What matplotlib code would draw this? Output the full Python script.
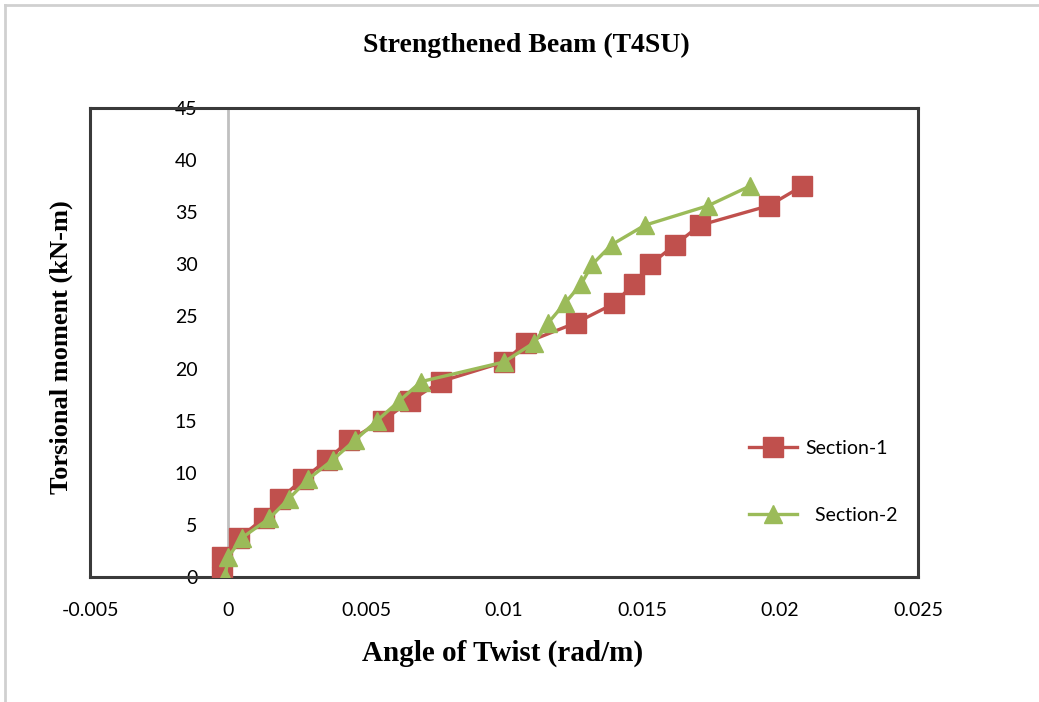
import matplotlib.pyplot as plt
from matplotlib.lines import Line2D

# torsional moment steps (kN-m), same for both sections
moment = [0, 1.88, 3.75, 5.63, 7.5, 9.38, 11.25, 13.13, 15, 16.88, 18.75,
          20.63, 22.5, 24.38, 26.25, 28.13, 30, 31.88, 33.75, 35.63, 37.5]

# angle of twist (rad/m)
twist_s1 = [-0.0002, -0.0002, 0.0004, 0.0013, 0.0019, 0.0027, 0.0036, 0.0044,
            0.0056, 0.0066, 0.0077, 0.0100, 0.0108, 0.0126, 0.0140, 0.0147,
            0.0153, 0.0162, 0.0171, 0.0196, 0.0208]
twist_s2 = [-0.0001, 0.0000, 0.0005, 0.0015, 0.0022, 0.0029, 0.0038, 0.0046,
            0.0054, 0.0062, 0.0070, 0.0100, 0.0111, 0.0116, 0.0122, 0.0128,
            0.0132, 0.0139, 0.0151, 0.0174, 0.0189]

x_ticks = [-0.005, 0, 0.005, 0.01, 0.015, 0.02, 0.025]
x_labels = ['-0.005', '0', '0.005', '0.01', '0.015', '0.02', '0.025']
y_ticks = [0, 5, 10, 15, 20, 25, 30, 35, 40, 45]

red = '#C0504D'
green = '#9BBB59'

fig = plt.figure(figsize=(10.39, 7.02), dpi=100)
ax = fig.add_axes([90/1039, 1-577/702, 828/1039, 469/702])

ax.plot(twist_s1, moment, color=red, lw=2.4, marker='s', ms=14,
        label='Section-1', zorder=3)
ax.plot(twist_s2, moment, color=green, lw=2.4, marker='^', ms=13,
        label='  Section-2', zorder=4)

ax.set_xlim(-0.005, 0.025)
ax.set_ylim(0, 45)

# frame: vertical axis sits at x=0, box drawn around the plot area
for s in ['top', 'right', 'bottom']:
    ax.spines[s].set_color('#3a3a3a')
    ax.spines[s].set_linewidth(2.2)
ax.spines['left'].set_position(('data', 0))
ax.spines['left'].set_color('#c0c0c0')
ax.spines['left'].set_linewidth(2)
ax.add_line(Line2D([0, 0], [0, 1], transform=ax.transAxes, color='#3a3a3a',
                   lw=2.2, clip_on=False, zorder=5))

ax.set_xticks(x_ticks)
ax.set_xticklabels(x_labels)
ax.set_yticks(y_ticks)
ax.tick_params(axis='x', length=0, pad=18, labelsize=14)
ax.tick_params(axis='y', length=0, pad=22, labelsize=14)
for t in ax.get_xticklabels() + ax.get_yticklabels():
    t.set_fontfamily('Lato')

ax.set_xlabel('Angle of Twist (rad/m)', fontfamily='Liberation Serif',
              fontweight='bold', fontsize=21)
ax.xaxis.set_label_coords(503/1039, 1-653/702, transform=fig.transFigure)
ax.xaxis.label.set_va('center')
ax.set_ylabel('Torsional moment (kN-m)', fontfamily='Liberation Serif',
              fontweight='bold', fontsize=19)
ax.yaxis.set_label_coords(61/1039, 1-347/702, transform=fig.transFigure)
ax.yaxis.label.set_va('center')

fig.text(526/1039, 1-45/702, 'Strengthened Beam (T4SU)', ha='center',
         va='center', fontfamily='Liberation Serif', fontweight='bold',
         fontsize=20)

leg = ax.legend(loc='center left', bbox_to_anchor=(731/1039, 1-482/702),
                bbox_transform=fig.transFigure, frameon=False,
                labelspacing=2.6, handlelength=2.5, handletextpad=0.4,
                prop={'family': 'Lato', 'size': 14})

# light outer chart border (left and top edges visible)
fig.add_artist(Line2D([5/1039, 5/1039], [0, 1-5/702], transform=fig.transFigure,
                      color='#d0d0d0', lw=2))
fig.add_artist(Line2D([5/1039, 1], [1-5/702, 1-5/702], transform=fig.transFigure,
                      color='#d0d0d0', lw=2))

fig.savefig('out.png', dpi=100)
